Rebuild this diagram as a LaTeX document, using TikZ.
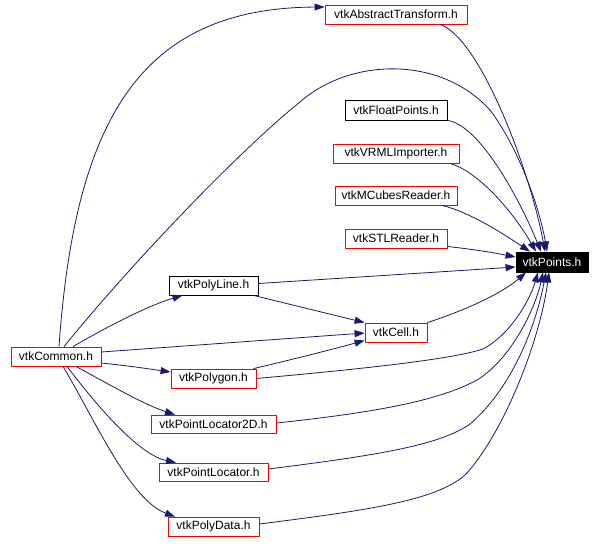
\documentclass[tikz,border=0pt]{standalone}
\usepackage{fontspec}
\setmainfont{Liberation Sans}
\usetikzlibrary{arrows.meta}
\definecolor{edgecol}{HTML}{191970}
\begin{document}
\begin{tikzpicture}[x=1pt,y=-1pt,
  box/.style={draw=black,line width=0.8pt,minimum height=19pt,inner sep=0pt,
    font=\fontsize{12}{14}\selectfont,fill=white},
  redbox/.style={box,draw=red},
  hl/.style={box,fill=black,text=white},
  edge/.style={draw=edgecol,line width=0.8pt,-{Triangle[length=10pt,width=7pt]}}]
\useasboundingbox (0,0) rectangle (602,546);

\node[redbox,minimum width=142pt] (abstract) at (396,14.5) {vtkAbstractTransform.h};
\node[box,minimum width=102pt,minimum height=20pt] (float) at (396,110) {vtkFloatPoints.h};
\node[redbox,minimum width=126pt] (vrml) at (396,153.5) {vtkVRMLImporter.h};
\node[redbox,minimum width=122pt] (mcubes) at (396,195.5) {vtkMCubesReader.h};
\node[redbox,minimum width=102pt] (stl) at (396,238.5) {vtkSTLReader.h};
\node[hl,minimum width=72pt,minimum height=20pt] (points) at (552,262) {vtkPoints.h};
\node[box,minimum width=89pt] (polyline) at (213.5,285.5) {vtkPolyLine.h};
\node[redbox,minimum width=62pt] (cell) at (396,332.5) {vtkCell.h};
\node[redbox,minimum width=90pt] (common) at (56,356.5) {vtkCommon.h};
\node[redbox,minimum width=85pt] (polygon) at (213.5,378.5) {vtkPolygon.h};
\node[redbox,minimum width=125pt,minimum height=18pt] (pl2d) at (213.5,424) {vtkPointLocator2D.h};
\node[redbox,minimum width=109pt,minimum height=18pt] (pl) at (213.5,472) {vtkPointLocator.h};
\node[redbox,minimum width=91pt] (polydata) at (213.5,526.5) {vtkPolyData.h};

% from vtkCommon
\draw[edge] ([xshift=3pt]common.north) .. controls (75,120) and (140,8) .. ([yshift=7.5pt]abstract.west);
\draw[edge] ([xshift=8pt]common.north) .. controls (130,265) and (240,150) .. (300,102)
  .. controls (350,58) and (440,55) .. (490,110)
  .. controls (520,150) and (540,210) .. ([xshift=-5pt]points.north);
\draw[edge] ([xshift=17pt]common.north) .. controls (110,325) and (150,305) .. ([xshift=-31pt]polyline.south);
\draw[edge] ([yshift=4.5pt]common.east) -- ([yshift=-0.5pt]cell.west);
\draw[edge] ([yshift=-6.5pt]common.east) .. controls (130,366) and (150,369) .. ([yshift=6.5pt]polygon.west);
\draw[edge] ([xshift=20pt]common.south) .. controls (110,385) and (145,405) .. ([xshift=-38.5pt]pl2d.north);
\draw[edge] ([xshift=11pt]common.south) .. controls (100,410) and (140,455) .. ([xshift=-37.5pt]pl.north);
\draw[edge] ([xshift=7pt]common.south) .. controls (95,420) and (130,500) .. ([xshift=-38.5pt]polydata.north);

% into vtkCell
\draw[edge] ([xshift=40pt]polyline.south) -- (cell.north west);
\draw[edge] ([xshift=40pt]polygon.north) .. controls (290,360) and (330,350) .. ([yshift=-8pt]cell.west);

% into vtkPoints
\draw[edge] ([xshift=44pt]abstract.south) .. controls (480,38) and (530,170) .. ([xshift=-7pt]points.north);
\draw[edge] (float.south east) .. controls (480,125) and (520,200) .. ([xshift=-11pt]points.north);
\draw[edge] ([xshift=54pt]vrml.south) .. controls (480,172) and (515,215) .. ([xshift=-16pt]points.north);
\draw[edge] ([xshift=46pt]mcubes.south) .. controls (470,212) and (505,235) .. ([xshift=-22pt]points.north);
\draw[edge] ([yshift=-8pt]stl.east) .. controls (480,250) and (500,254) .. ([yshift=5pt]points.west);
\draw[edge] ([yshift=2pt]polyline.east) -- ([yshift=-5pt]points.west);
\draw[edge] (cell.north east) .. controls (460,312) and (500,295) .. ([xshift=-26pt]points.south);
\draw[edge] (polygon.east) .. controls (350,370) and (450,360) .. (483,349)
  .. controls (510,335) and (530,300) .. ([xshift=-14pt]points.south);
\draw[edge] ([yshift=1pt]pl2d.east) .. controls (380,412) and (440,400) .. (477,380)
  .. controls (510,360) and (535,310) .. ([xshift=-9pt]points.south);
\draw[edge] ([yshift=3pt]pl.east) .. controls (380,455) and (440,445) .. (470,424)
  .. controls (510,390) and (535,330) .. ([xshift=-6pt]points.south);
\draw[edge] ([yshift=2.5pt]polydata.east) .. controls (370,510) and (440,500) .. (467,473)
  .. controls (505,430) and (540,340) .. ([xshift=-3pt]points.south);
\end{tikzpicture}
\end{document}
